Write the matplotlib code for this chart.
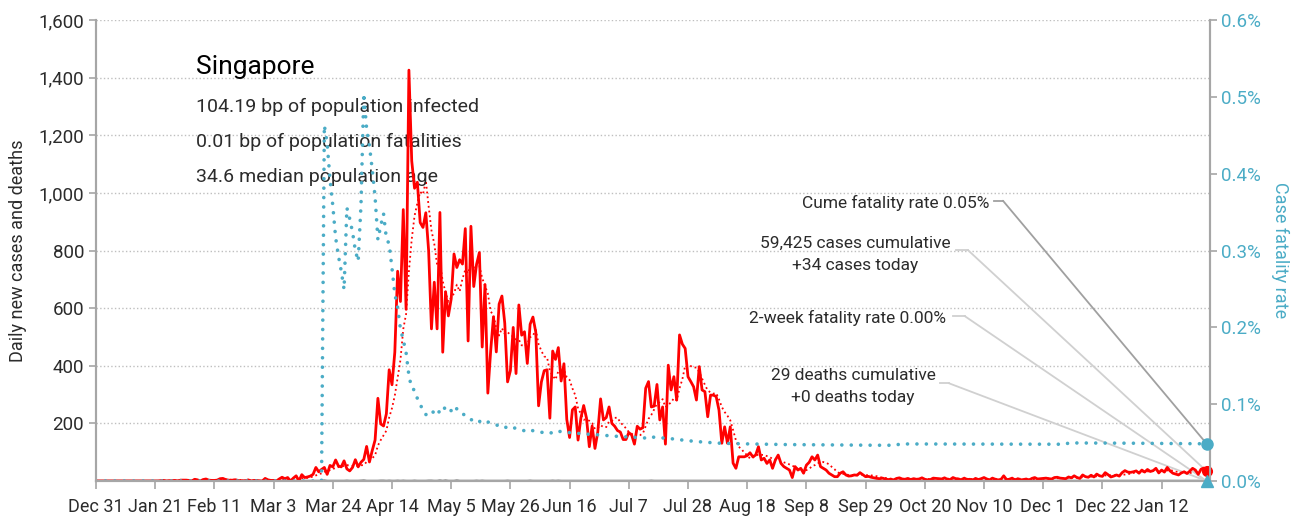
import matplotlib
matplotlib.use('Agg')
import matplotlib.pyplot as plt
import matplotlib.dates as mdates
import numpy as np
import pandas as pd

plt.rcParams['font.family'] = ['Roboto', 'DejaVu Sans']

# daily new cases, Dec 31 2019 .. Jan 28 2021, one list per month
cases_dec19 = [0]
cases_jan = [0, 0, 0, 0, 0, 0, 0, 0, 0, 0, 0, 0, 0, 0, 0, 0, 0, 0, 0, 0, 0, 0,
             1, 2, 0, 1, 1, 2, 0, 3, 3]
cases_feb = [3, 2, 0, 6, 4, 0, 5, 7, 3, 2, 2, 3, 8, 9, 5, 3, 2, 4, 3, 0, 1, 0, 4, 0, 2, 2, 0, 0, 9]
cases_mar = [4, 2, 2, 0, 7, 13, 8, 12, 0, 10, 18, 0, 22, 12, 14, 17, 23, 47, 32, 40, 47, 23, 54, 49,
             73, 52, 49, 70, 42, 35, 47]
cases_apr = [74, 49, 65, 75, 120, 66, 106, 142, 287, 198, 191, 233, 386, 334, 447, 728, 623, 942, 596,
             1426, 1111, 1016, 1037, 897, 880, 931, 799, 528, 690, 528]
cases_may = [932, 447, 657, 573, 632, 788, 741, 768, 753, 876, 486, 884, 675, 752, 793, 465, 682, 305,
             451, 570, 448, 614, 642, 548, 344, 383, 533, 373, 611, 506, 518]
cases_jun = [408, 544, 569, 517, 261, 344, 383, 386, 218, 451, 422, 463, 347, 407, 214, 151, 247, 257,
             142, 218, 262, 218, 119, 191, 113, 170, 285, 212, 220, 257]
cases_jul = [200, 190, 175, 170, 144, 144, 168, 160, 128, 190, 180, 185, 322, 345, 257, 260, 335, 212,
             257, 128, 402, 316, 362, 281, 507, 475, 460, 362, 345, 327, 281]
cases_aug = [397, 316, 310, 223, 298, 298, 293, 246, 131, 188, 131, 188, 62, 44, 84, 84, 84, 88, 98,
             84, 90, 119, 73, 79, 61, 73, 44, 73, 90, 61, 50]
cases_sep = [44, 38, 12, 50, 38, 44, 27, 55, 65, 84, 73, 90, 50, 44, 38, 27, 21, 15, 15, 27, 32, 21,
             17, 18, 21, 20, 29, 22, 15, 16]
cases_oct = [13, 11, 9, 8, 10, 7, 5, 6, 4, 9, 11, 7, 6, 9, 5, 8, 6, 7, 11, 6, 4, 5, 10, 9, 8, 7, 11,
             6, 5, 12, 8]
cases_nov = [7, 4, 10, 5, 6, 3, 9, 5, 8, 12, 7, 4, 10, 6, 4, 5, 18, 5, 6, 10, 3, 8, 4, 5, 7, 3, 9, 12,
             7, 8]
cases_dec = [9, 10, 8, 7, 12, 13, 10, 9, 8, 14, 11, 18, 12, 9, 21, 15, 13, 20, 14, 24, 18, 16, 29, 22,
             14, 17, 21, 17, 29, 36, 31]
cases_jan21 = [30, 32, 35, 27, 38, 31, 40, 33, 36, 44, 28, 38, 31, 47, 35, 27, 24, 21, 28, 32, 26, 34,
               44, 38, 23, 41, 45, 34]

# deaths by date
death_dates = ['2020-03-21', '2020-03-29', '2020-04-03', '2020-04-04', '2020-04-10', '2020-04-11',
               '2020-04-13', '2020-04-16', '2020-04-18', '2020-04-22', '2020-04-27', '2020-04-28',
               '2020-05-01', '2020-05-03', '2020-05-07', '2020-05-14', '2020-05-16', '2020-05-25',
               '2020-06-02', '2020-06-10', '2020-06-12', '2020-07-15', '2020-10-11', '2020-12-10']
death_counts = [2, 1, 1, 2, 1, 1, 1, 1, 1, 1, 1, 1, 2, 2, 2, 1, 1, 1, 1, 1, 1, 1, 1, 1]

RED = '#ff0000'
TEAL = '#4bacc6'
GRAY = '#a6a6a6'
TXT = '#2b2b2b'

all_cases = (cases_dec19 + cases_jan + cases_feb + cases_mar + cases_apr + cases_may + cases_jun +
             cases_jul + cases_aug + cases_sep + cases_oct + cases_nov + cases_dec + cases_jan21)
dates = pd.date_range('2019-12-31', periods=len(all_cases), freq='D')
cases = pd.Series(all_cases, index=dates, dtype=float)
deaths = pd.Series(0.0, index=dates)
deaths.loc[pd.to_datetime(death_dates)] = death_counts

avg7 = cases.rolling(7, min_periods=1).mean()
cfr = (deaths.cumsum() / cases.cumsum()).fillna(0)
cfr14 = (deaths.rolling(14).sum() / cases.rolling(14).sum()).fillna(0)

fig = plt.figure(figsize=(13.12, 5.2), dpi=100)
ax = fig.add_axes([96 / 1312, 39 / 520, 1113.5 / 1312, 461 / 520])
ax2 = ax.twinx()

ax.plot(dates, deaths, color=GRAY, lw=2, zorder=2)
ax.plot(dates, avg7, color=RED, lw=1.3, ls=':', zorder=3)
ax.plot(dates, cases, color=RED, lw=2, zorder=4)
ax2.plot(dates, cfr, color=TEAL, lw=2.6, ls=(0, (0.01, 2.6)), dash_capstyle='round')

last = dates[-1]
ax.plot([last], [cases.iloc[-1]], 'o', color=RED, ms=7, clip_on=False, zorder=6)
ax2.plot([last], [cfr.iloc[-1]], 'o', color=TEAL, ms=8, clip_on=False, zorder=6)
ax2.plot([last], [cfr14.iloc[-1]], '^', color=TEAL, ms=9, clip_on=False, zorder=6)

ax.set_xlim(dates[0], last + pd.Timedelta(days=1))
ax.set_ylim(0, 1600)
ax2.set_ylim(0, 0.006)

ax.set_yticks(range(200, 1601, 200))
ax.set_yticklabels([f'{v:,}' for v in range(200, 1601, 200)])
ax.grid(axis='y', color='#bfbfbf', ls=':', lw=1)
ax.set_axisbelow(True)

xt = pd.date_range('2019-12-31', periods=19, freq='21D')
ax.set_xticks(xt)
ax.set_xticklabels([f'{d:%b} {d.day}' for d in xt])

ax2.set_yticks(np.arange(0, 0.0061, 0.001))
ax2.set_yticklabels([f'{v * 100:.1f}%' for v in np.arange(0, 0.0061, 0.001)])

for a in (ax, ax2):
    a.spines['top'].set_visible(False)
    for s in ('left', 'right', 'bottom'):
        a.spines[s].set_color(GRAY)
        a.spines[s].set_linewidth(1.5)
ax.tick_params(axis='x', colors=GRAY, labelcolor=TXT, labelsize=13, length=6, width=1.2, pad=6)
ax.tick_params(axis='y', colors=GRAY, labelcolor=TXT, labelsize=13.5, length=5, width=1.2)
ax2.tick_params(axis='y', colors=GRAY, labelcolor=TEAL, labelsize=13.5, length=5, width=1.2)

ax.set_ylabel('Daily new cases and deaths', fontsize=13, color=TXT, labelpad=8)
ax2.set_ylabel('Case fatality rate', fontsize=13, color=TEAL, rotation=270, labelpad=20)

# country summary
ax.text(0.09, 0.898, 'Singapore', transform=ax.transAxes, fontsize=19, color='black', va='center')
summary = ['104.19 bp of population infected', '0.01 bp of population fatalities',
           '34.6 median population age']
for i, line in enumerate(summary):
    ax.text(0.09, 0.811 - 0.076 * i, line, transform=ax.transAxes, fontsize=14, color=TXT,
            va='center')

# callouts pointing at the latest values
lx = mdates.date2num(last)
callouts = [
    ('Cume fatality rate 0.05%', 0.802, 0.603, 'right', ax2, cfr.iloc[-1], (0.8067, 0.8145, 0.608), '#a0a0a0'),
    ('59,425 cases cumulative\n+34 cases today', 0.682, 0.492, 'center', ax, cases.iloc[-1],
     (0.7725, 0.783, 0.501), '#d0d0d0'),
    ('2-week fatality rate 0.00%', 0.675, 0.354, 'center', ax2, cfr14.iloc[-1], (0.7695, 0.78, 0.358), '#d0d0d0'),
    ('29 deaths cumulative\n+0 deaths today', 0.680, 0.205, 'center', ax, deaths.iloc[-1],
     (0.758, 0.766, 0.212), '#d0d0d0'),
]
for text, tx, ty, ha, tax, val, (x0, x1, sy), col in callouts:
    ax.text(tx, ty, text, transform=ax.transAxes, fontsize=12.5, color=TXT, ha=ha, va='center',
            linespacing=1.6)
    ax.plot([x0, x1], [sy, sy], transform=ax.transAxes, color=col, lw=1.3, clip_on=False)
    ax.annotate('', xy=(lx, val), xycoords=tax.transData, xytext=(x1, sy), textcoords=ax.transAxes,
                arrowprops=dict(arrowstyle='-', color=col, lw=1.3, shrinkA=0, shrinkB=0))

fig.savefig('out.png', dpi=100)
